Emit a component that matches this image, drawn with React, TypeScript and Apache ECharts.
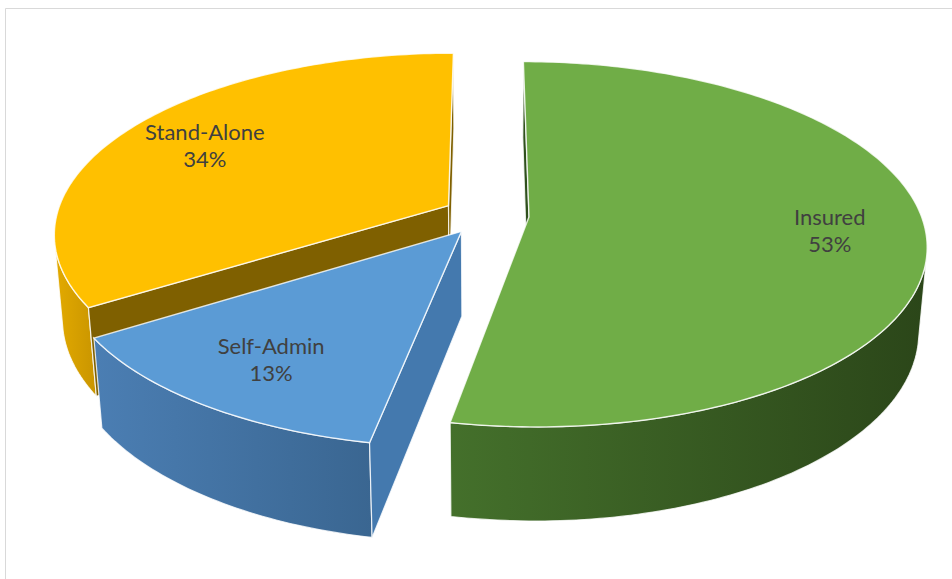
import React, { useEffect, useRef } from 'react';
import * as echarts from 'echarts';

// ---- data ----
const categories = ['Insured', 'Self-Admin', 'Stand-Alone'];
const values = [53, 13, 34];
const percentLabels = ['53%', '13%', '34%'];

// ---- styles ----
const topColors = ['#70ad47', '#5b9bd5', '#ffc000'];
const wallColors = [
  ['#44702b', '#2b4619'],
  ['#4b7eb3', '#3a6691'],
  ['#e3aa00', '#c99500'],
];
const cutColors = ['#2f501d', '#4479ae', '#7f6000'];

// ---- 3D projection settings ----
const CX = 486;
const CY = 215;
const K = 392;
const SIN_A = 0.454;
const COS_A = Math.sqrt(1 - SIN_A * SIN_A);
const D = 5.94;
const THICK = 0.245;
const EXPLODE = 0.11;
const LABEL_R = 0.76;

function project(X: number, H: number, Z: number): number[] {
  const dz = Z * COS_A + H * SIN_A;
  const p = D / (D - dz);
  const up = -Z * SIN_A + H * COS_A;
  return [CX + K * X * p, CY - K * up * p];
}

const total = values.reduce((a, b) => a + b, 0);
const before: number[] = [];
values.reduce((acc, v, i) => {
  before[i] = acc;
  return acc + v;
}, 0);

function sliceOffset(i: number) {
  const mid = ((before[i] + values[i] / 2) / total) * 2 * Math.PI;
  return { ox: EXPLODE * Math.sin(mid), oz: -EXPLODE * Math.cos(mid) };
}

// draw far slices first
const order = values.map((_, i) => i).sort((a, b) => sliceOffset(a).oz - sliceOffset(b).oz);
const seriesData = order.map((i) => [i, values[i], before[i]]);

const EDGE = 'rgba(255,255,255,0.8)';

function renderItem(params: any, api: any) {
  const i = api.value(0) as number;
  const v = api.value(1) as number;
  const b = api.value(2) as number;
  const a0 = (b / total) * 2 * Math.PI;
  const a1 = ((b + v) / total) * 2 * Math.PI;
  const mid = (a0 + a1) / 2;
  const ox = EXPLODE * Math.sin(mid);
  const oz = -EXPLODE * Math.cos(mid);
  const rim = (t: number, H: number) => project(ox + Math.sin(t), H, oz - Math.cos(t));
  const children: any[] = [];

  // outer wall (visible parts)
  const steps = Math.max(12, Math.ceil(((a1 - a0) * 180) / Math.PI));
  const visible = (t: number) => -1 - ox * Math.sin(t) + (oz - D * COS_A) * Math.cos(t) > 0;
  let run: number[] = [];
  const runs: number[][] = [];
  for (let s = 0; s <= steps; s++) {
    const t = a0 + ((a1 - a0) * s) / steps;
    if (visible(t)) run.push(t);
    else if (run.length) {
      runs.push(run);
      run = [];
    }
  }
  if (run.length) runs.push(run);
  runs.forEach((r) => {
    if (r.length < 2) return;
    const topPts = r.map((t) => rim(t, 0));
    const botPts = r.map((t) => rim(t, -THICK)).reverse();
    const pts = topPts.concat(botPts);
    const xs = pts.map((p) => p[0]);
    const minX = Math.min(...xs);
    const maxX = Math.max(...xs);
    children.push({
      type: 'polygon',
      shape: { points: pts },
      style: {
        fill: new echarts.graphic.LinearGradient(minX, 0, maxX, 0, [
          { offset: 0, color: wallColors[i][0] },
          { offset: 1, color: wallColors[i][1] },
        ], true),
        stroke: EDGE,
        lineWidth: 1.2,
      },
    });
  });

  // cut faces
  const camX = -ox;
  const camZ = D * COS_A - oz;
  const apexTop = project(ox, 0, oz);
  const apexBot = project(ox, -THICK, oz);
  const startVis = -camX * Math.cos(a0) - camZ * Math.sin(a0) > 0;
  const endVis = camX * Math.cos(a1) + camZ * Math.sin(a1) > 0;
  const cutFace = (t: number) => ({
    type: 'polygon',
    shape: { points: [apexTop, rim(t, 0), rim(t, -THICK), apexBot] },
    style: { fill: cutColors[i], stroke: EDGE, lineWidth: 1.2 },
  });
  if (startVis) children.push(cutFace(a0));
  if (endVis) children.push(cutFace(a1));

  // top face
  const topPts: number[][] = [apexTop];
  for (let s = 0; s <= steps; s++) {
    topPts.push(rim(a0 + ((a1 - a0) * s) / steps, 0));
  }
  children.push({
    type: 'polygon',
    shape: { points: topPts },
    style: { fill: topColors[i], stroke: EDGE, lineWidth: 1.4 },
  });

  // label
  const lp = project(ox + LABEL_R * Math.sin(mid), 0, oz - LABEL_R * Math.cos(mid));
  children.push({
    type: 'text',
    x: lp[0],
    y: lp[1],
    z2: 100,
    style: {
      text: categories[i] + '\n' + percentLabels[i],
      textAlign: 'center',
      textVerticalAlign: 'middle',
      fill: '#404040',
      fontSize: 22,
      fontFamily: 'Lato, "Open Sans", sans-serif',
      lineHeight: 27,
    },
  });

  return { type: 'group', children };
}

export default function App() {
  const ref = useRef<HTMLDivElement>(null);
  useEffect(() => {
    if (!ref.current) return;
    const chart = echarts.init(ref.current, null, { renderer: 'svg' });
    chart.setOption({
      animation: false,
      backgroundColor: '#ffffff',
      graphic: [
        {
          type: 'rect',
          shape: { x: 5.5, y: 8.5, width: 1000, height: 1000 },
          style: { fill: 'none', stroke: '#d9d9d9', lineWidth: 1 },
          silent: true,
        },
      ],
      series: [
        {
          type: 'custom',
          coordinateSystem: 'none',
          silent: true,
          renderItem,
          data: seriesData,
        },
      ],
    });
    return () => chart.dispose();
  }, []);
  return (
    <div
      ref={ref}
      style={{ position: 'fixed', left: 0, top: 0, width: 952, height: 579, background: '#fff' }}
    />
  );
}
